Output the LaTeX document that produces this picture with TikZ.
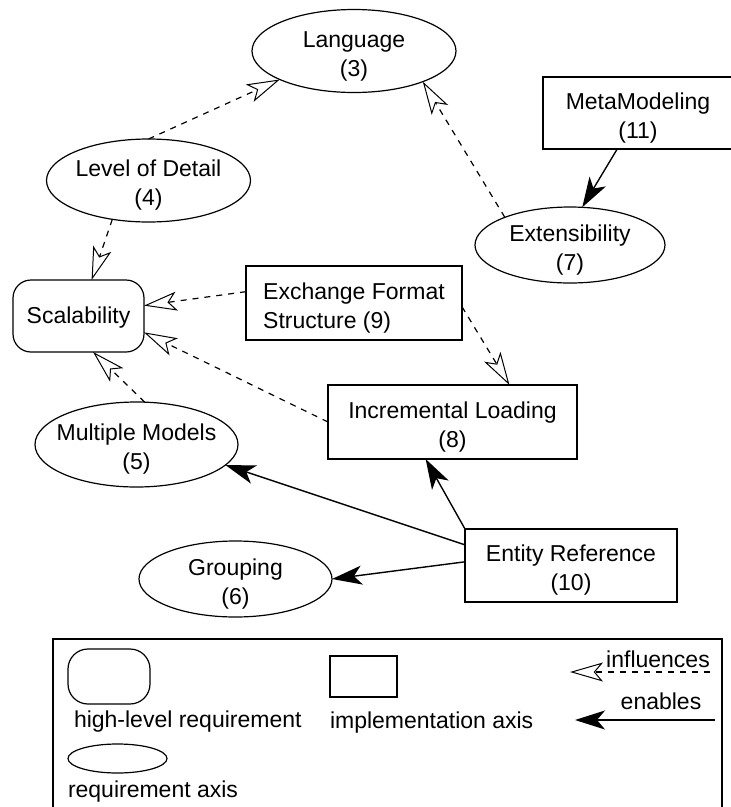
\documentclass[tikz,border=0pt]{standalone}
\usepackage{fontspec}
\setmainfont{Liberation Sans}
\usetikzlibrary{arrows.meta,shapes.geometric}
\begin{document}
\begin{tikzpicture}[x=1pt,y=-1pt,
  font=\fontsize{23}{29}\selectfont,
  every node/.style={inner sep=0pt, outer sep=0pt},
  ell/.style={draw, line width=1.2pt, ellipse, inner sep=0pt},
  box/.style={draw, line width=1.2pt, rectangle},
  lab/.style={align=center, yshift=-5pt},
  infl/.style={line width=1.2pt, dash pattern=on 6pt off 6pt, -{Stealth[open, length=33pt, width=19pt, inset=8pt, line width=1pt]}},
  enab/.style={line width=1.4pt, -{Stealth[length=30pt, width=19pt, inset=8pt]}},
]
\useasboundingbox (0,0) rectangle (731,807);
\clip (0,0) rectangle (731,807);
% requirement axes
\node[ell, minimum width=204pt, minimum height=83pt, label={[lab]center:{Language\\(3)}}] (lang) at (354,51) {};
\node[ell, minimum width=204pt, minimum height=83pt, label={[lab]center:{Level of Detail\\(4)}}] (lod) at (148.5,180.5) {};
\node[ell, minimum width=190pt, minimum height=76pt, label={[lab]center:{Extensibility\\(7)}}] (ext) at (570,245) {};
\node[ell, minimum width=203pt, minimum height=85pt, label={[lab]center:{Multiple Models\\(5)}}] (mm) at (136.5,444.5) {};
\node[ell, minimum width=193pt, minimum height=76pt, label={[lab]center:{Grouping\\(6)}}] (grp) at (235.5,579) {};
% implementation axes
\node[box, minimum width=190pt, minimum height=72pt, label={[lab]center:{MetaModeling\\(11)}}] (meta) at (638,113) {};
\node[box, minimum width=216pt, minimum height=74pt, label={[lab,align=left]center:{Exchange Format\\Structure (9)}}] (exch) at (354,303) {};
\node[box, minimum width=249pt, minimum height=74pt, label={[lab]center:{Incremental Loading\\(8)}}] (incr) at (452.5,422) {};
\node[box, minimum width=212pt, minimum height=73pt, label={[lab]center:{Entity Reference\\(10)}}] (ent) at (571,565.5) {};
% high-level requirement
\node[box, rounded corners=18pt, minimum width=131pt, minimum height=72pt, label={[yshift=-2pt]center:Scalability}] (scal) at (78.5,316) {};
% connectors
\draw[infl] (lod.north) -- (lang.201);
\draw[infl] (ext.157) -- (lang.336);
\draw[enab] (meta.240) -- (ext.72);
\draw[infl] (lod.227) -- (scal.70);
\draw[infl] (exch.174) -- (scal.9);
\draw[infl] (incr.west) -- (scal.-14);
\draw[infl] (mm.79) -- (scal.-68);
\draw[infl] (exch.-2) -- (incr.33);
\draw[enab] (ent.169) -- (mm.-13);
\draw[enab] (ent.161) -- (incr.234);
\draw[enab] (ent.178) -- (grp.east);
% legend
\node[box, anchor=north west, minimum width=669pt, minimum height=176pt] (legend) at (53,639) {};
\node[box, rounded corners=20pt, minimum width=82pt, minimum height=55pt] (lhl) at (109,676.5) {};
\node[anchor=west] (lhlt) at (74,722) {high-level requirement};
\node[ell, minimum width=99pt, minimum height=29pt] (lell) at (117.5,758.5) {};
\node[anchor=west] (lellt) at (68,792) {requirement axis};
\node[box, minimum width=67pt, minimum height=41pt] (lbox) at (363.5,676.5) {};
\node[anchor=west] (lboxt) at (330,723) {implementation axis};
\coordinate (i1) at (710,672);
\coordinate (i2) at (570,672);
\draw[infl] (i1) -- (i2);
\node (it) at (658,659) {influences};
\coordinate (e1) at (715,720);
\coordinate (e2) at (575,720);
\draw[enab] (e1) -- (e2);
\node (et) at (661,701) {enables};
\end{tikzpicture}
\end{document}
